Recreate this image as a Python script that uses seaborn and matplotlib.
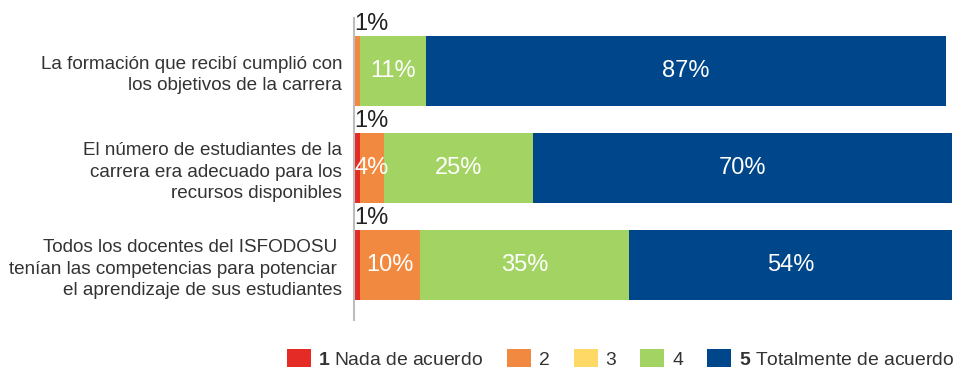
import matplotlib
matplotlib.use("Agg")
import matplotlib.pyplot as plt
from matplotlib.patches import Patch
import numpy as np
import pandas as pd
import seaborn as sns

sns.set_theme(style="white")
plt.rcParams["font.family"] = ["Liberation Sans", "DejaVu Sans"]
plt.rcParams["mathtext.fontset"] = "custom"
plt.rcParams["mathtext.rm"] = "Liberation Sans"
plt.rcParams["mathtext.bf"] = "Liberation Sans:bold"

# Survey statements (one bar each)
categories = [
    "La formación que recibí cumplió con\nlos objetivos de la carrera",
    "El número de estudiantes de la\ncarrera era adecuado para los\nrecursos disponibles",
    "Todos los docentes del ISFODOSU \ntenían las competencias para potenciar \nel aprendizaje de sus estudiantes",
]

# Percentage of answers per agreement level (1 = nada, 5 = totalmente)
level_1 = [0, 1, 1]
level_2 = [1, 4, 10]
level_3 = [0, 0, 0]
level_4 = [11, 25, 35]
level_5 = [87, 70, 54]

legend_labels = [
    r"$\mathbf{1}$ Nada de acuerdo",
    "2",
    "3",
    "4",
    r"$\mathbf{5}$ Totalmente de acuerdo",
]
colors = ["#E52B25", "#F18A40", "#FFD966", "#A3D463", "#00468A"]

levels = [level_1, level_2, level_3, level_4, level_5]
df = pd.DataFrame({f"n{i + 1}": v for i, v in enumerate(levels)})
df["pregunta"] = categories
cums = np.cumsum(np.array(levels, dtype=float), axis=0)

fig = plt.figure(figsize=(9.57, 3.69), dpi=100)
ax = fig.add_axes([354 / 957, 1 - 320 / 369, (952 - 354) / 957, (320 - 18) / 369])

# Stack by layering cumulative totals, widest first
for k in range(4, -1, -1):
    sns.barplot(
        x=cums[k], y=categories, orient="h", color=colors[k],
        saturation=1, width=0.72, ax=ax, linewidth=0, order=categories,
    )

ax.set_xlim(0, 100)
ax.set_ylim(2.567, -0.546)
ax.set_xlabel("")
ax.set_ylabel("")
ax.set_xticks([])
for s in ["top", "right", "bottom"]:
    ax.spines[s].set_visible(False)
ax.spines["left"].set_color("#BDBDBD")
ax.spines["left"].set_linewidth(1.5)
ax.tick_params(axis="y", length=0, pad=8.5, labelsize=13.6, labelcolor="#333333")
for lbl in ax.get_yticklabels():
    lbl.set_linespacing(1.32)

# Value labels
for i in range(len(categories)):
    start = 0.0
    for k in range(5):
        v = levels[k][i]
        if v > 0:
            if v < 3:
                ax.text(0, i - 0.48, f"{v}%", ha="left", va="center",
                        fontsize=17, color="#222222", clip_on=False)
            else:
                ax.text(start + v / 2, i, f"{v}%", ha="center", va="center",
                        fontsize=17, color="white")
        start += v

handles = [Patch(facecolor=c, edgecolor="none") for c in colors]
fig.legend(
    handles, legend_labels, loc="lower right", bbox_to_anchor=(0.999, -0.005),
    ncol=5, frameon=False, fontsize=13.9, handlelength=1.24, handleheight=1.04,
    handletextpad=0.41, columnspacing=1.24, borderaxespad=0, borderpad=0.1,
    labelcolor="#333333",
)

fig.savefig("out.png", dpi=100)
